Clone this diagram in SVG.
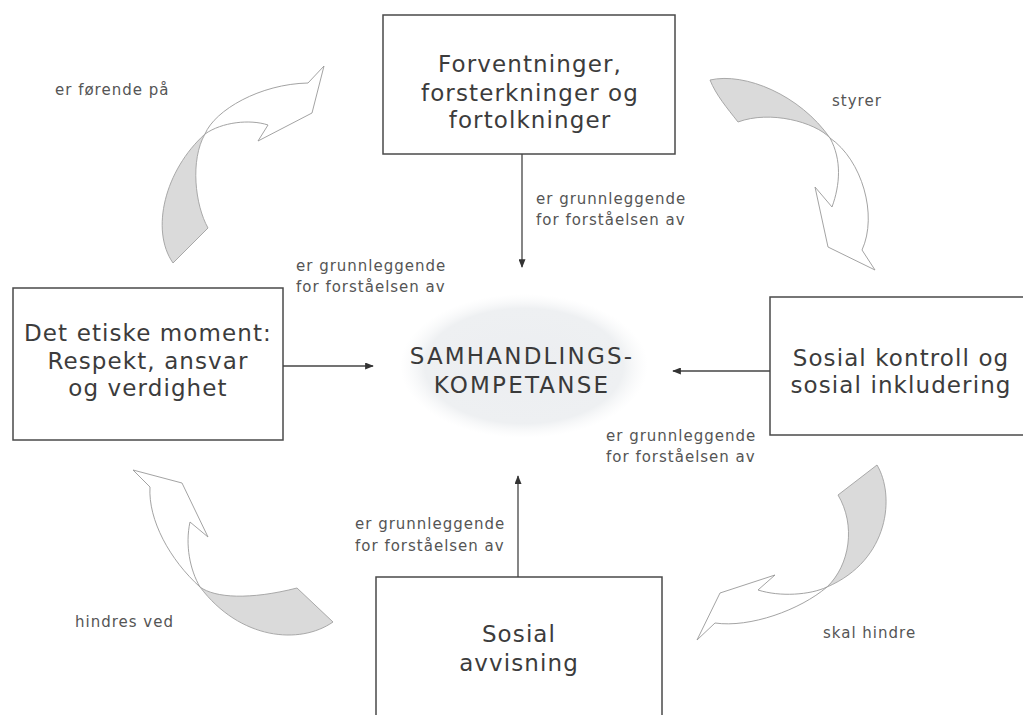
<svg xmlns="http://www.w3.org/2000/svg" width="1023" height="715" viewBox="0 0 1023 715">
<style>
.box{fill:#fff;stroke:#4a4a4a;stroke-width:1.5}
.nt{font-family:"DejaVu Sans",sans-serif;font-size:23px;letter-spacing:1.1px;fill:#3c3c3c;text-anchor:middle}
.ct{font-family:"DejaVu Sans",sans-serif;font-size:23px;letter-spacing:2.2px;fill:#3a3a3a;text-anchor:middle}
.lb{font-family:"DejaVu Sans",sans-serif;font-size:15px;letter-spacing:1px;fill:#555}
.ln{stroke:#444;stroke-width:1.3;fill:none}
.cw{fill:#fff;stroke:#999;stroke-width:0.9}
.cg{fill:#dadada;stroke:#a0a0a0;stroke-width:0.9}
</style>
<defs>
<marker id="ah" viewBox="0 0 10 8" refX="9" refY="4" markerWidth="9" markerHeight="7" markerUnits="userSpaceOnUse" orient="auto">
<path d="M0,0 L10,4 L0,8 Z" fill="#333"/>
</marker>
<radialGradient id="eg" cx="0.5" cy="0.5" r="0.5">
<stop offset="0" stop-color="#eceef1"/>
<stop offset="0.8" stop-color="#eef0f2"/>
<stop offset="1" stop-color="#f6f7f8" stop-opacity="0"/>
</radialGradient>
</defs>
<rect width="1023" height="715" fill="#fff"/>

<g id="node-center">
<ellipse cx="524" cy="366" rx="124" ry="72" fill="url(#eg)"/>
<text class="ct" x="522" y="364">SAMHANDLINGS-</text>
<text class="ct" x="522" y="393">KOMPETANSE</text>
</g>

<g id="node-top">
<rect class="box" x="383" y="15" width="292" height="139"/>
<text class="nt" x="530" y="72">Forventninger,</text>
<text class="nt" x="530" y="101">forsterkninger og</text>
<text class="nt" x="530" y="128">fortolkninger</text>
</g>

<g id="node-left">
<rect class="box" x="13" y="288" width="270" height="152"/>
<text class="nt" x="148" y="341">Det etiske moment:</text>
<text class="nt" x="148" y="369">Respekt, ansvar</text>
<text class="nt" x="148" y="396">og verdighet</text>
</g>

<g id="node-right">
<rect class="box" x="770" y="297" width="262" height="138"/>
<text class="nt" x="901" y="366">Sosial kontroll og</text>
<text class="nt" x="901" y="393">sosial inkludering</text>
</g>

<g id="node-bottom">
<rect class="box" x="376" y="577" width="286" height="150"/>
<text class="nt" x="519" y="642">Sosial</text>
<text class="nt" x="519" y="671">avvisning</text>
</g>

<g id="connectors">
<line class="ln" x1="522" y1="154" x2="522" y2="267" marker-end="url(#ah)"/>
<line class="ln" x1="283" y1="366" x2="373" y2="366" marker-end="url(#ah)"/>
<line class="ln" x1="770" y1="371" x2="673" y2="371" marker-end="url(#ah)"/>
<line class="ln" x1="518" y1="577" x2="518" y2="476" marker-end="url(#ah)"/>

<g id="curve-top-left">
<path class="cw" d="M205,134 C215,110 260,84 308,83 L324,66 L312,113 L258,141 L268,125 C250,119 222,122 205,134 Z"/>
<path class="cg" d="M205,134 C165,170 150,230 173,263 L208,228 C195,205 190,160 205,134 Z"/>
</g>
<g id="curve-top-right">
<path class="cg" d="M710,80 C745,72 800,95 830,138 C815,122 770,110 738,122 C727,108 716,95 710,80 Z"/>
<path class="cw" d="M830,138 C862,160 878,215 862,250 L875,270 L828,247 L815,187 L832,207 C840,185 842,160 830,138 Z"/>
</g>
<g id="curve-bottom-right">
<path class="cg" d="M838,495 L877,465 C895,495 890,560 827,587 C850,565 856,525 838,495 Z"/>
<path class="cw" d="M827,587 C800,610 750,628 715,623 L697,640 L720,593 L775,575 L758,590 C780,597 810,595 827,587 Z"/>
</g>
<g id="curve-bottom-left">
<path class="cg" d="M200,587 C215,598 250,600 297,588 L333,622 C300,645 240,640 200,587 Z"/>
<path class="cw" d="M200,587 C170,560 148,520 150,487 L133,470 L182,483 L208,537 L190,522 C185,545 190,570 200,587 Z"/>
</g>

<g id="labels">
<text class="lb" x="536" y="204">er grunnleggende</text>
<text class="lb" x="536" y="225">for forståelsen av</text>
<text class="lb" x="296" y="271">er grunnleggende</text>
<text class="lb" x="296" y="292">for forståelsen av</text>
<text class="lb" x="606" y="441">er grunnleggende</text>
<text class="lb" x="606" y="462">for forståelsen av</text>
<text class="lb" x="355" y="529">er grunnleggende</text>
<text class="lb" x="355" y="551">for forståelsen av</text>
<text class="lb" x="55" y="95">er førende på</text>
<text class="lb" x="832" y="106">styrer</text>
<text class="lb" x="823" y="638">skal hindre</text>
<text class="lb" x="75" y="627">hindres ved</text>
</g>
</g>
</svg>
